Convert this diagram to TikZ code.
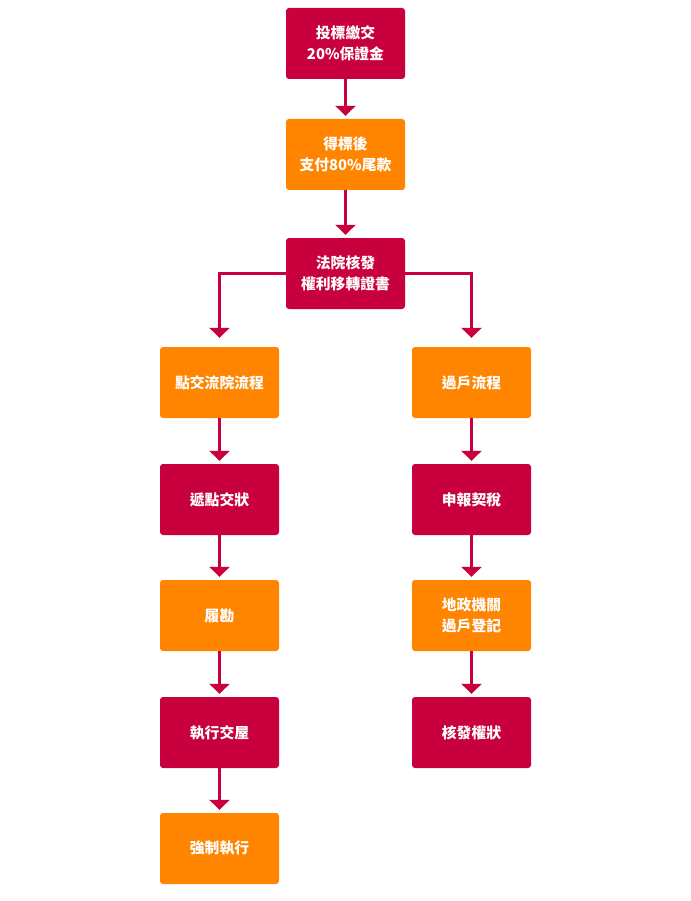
\documentclass[tikz,border=0pt]{standalone}
\usepackage{fontspec}
\setmainfont{Noto Sans CJK TC}
\usetikzlibrary{arrows.meta}
\definecolor{crim}{HTML}{C8003D}
\definecolor{orng}{HTML}{FF8500}
\tikzset{
  box/.style={rounded corners=3pt, minimum width=119pt, minimum height=71pt, inner sep=0pt,
    align=center, text=white, font=\fontsize{14.8}{21.5}\selectfont\bfseries},
  rbox/.style={box, fill=crim},
  obox/.style={box, fill=orng},
  arr/.style={draw=crim, line width=3pt, -{Triangle[width=20pt,length=10pt]}}
}
\begin{document}
\begin{tikzpicture}[x=1pt,y=-1pt]
\useasboundingbox (0,0) rectangle (690,901);
\node[rbox] (n1) at (345.5,43.5) {投標繳交\\20\%保證金};
\node[obox] (n2) at (345.5,154.5) {得標後\\支付80\%尾款};
\node[rbox] (n3) at (345.5,273.5) {法院核發\\權利移轉證書};
\node[obox] (l1) at (219.5,382.5) {點交流院流程};
\node[rbox] (l2) at (219.5,499.5) {遞點交狀};
\node[obox] (l3) at (219.5,615.5) {履勘};
\node[rbox] (l4) at (219.5,732.5) {執行交屋};
\node[obox] (l5) at (219.5,848.5) {強制執行};
\node[obox] (r1) at (471.5,382.5) {過戶流程};
\node[rbox] (r2) at (471.5,499.5) {申報契稅};
\node[obox] (r3) at (471.5,615.5) {地政機關\\過戶登記};
\node[rbox] (r4) at (471.5,732.5) {核發權狀};
\draw[arr] (n1.south) -- ([yshift=3pt]n2.north);
\draw[arr] (n2.south) -- ([yshift=3pt]n3.north);
\draw[arr] (n3.west) -| ([yshift=9pt]l1.north);
\draw[arr] (n3.east) -| ([yshift=9pt]r1.north);
\draw[arr] (l1.south) -- ([yshift=3pt]l2.north);
\draw[arr] (l2.south) -- ([yshift=3pt]l3.north);
\draw[arr] (l3.south) -- ([yshift=3pt]l4.north);
\draw[arr] (l4.south) -- ([yshift=3pt]l5.north);
\draw[arr] (r1.south) -- ([yshift=3pt]r2.north);
\draw[arr] (r2.south) -- ([yshift=3pt]r3.north);
\draw[arr] (r3.south) -- ([yshift=3pt]r4.north);
\end{tikzpicture}
\end{document}
